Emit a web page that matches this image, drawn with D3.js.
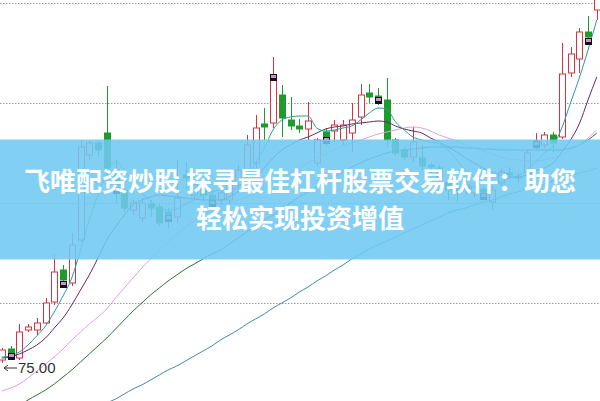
<!DOCTYPE html>
<html><head><meta charset="utf-8">
<script src="https://cdn.jsdelivr.net/npm/d3@7/dist/d3.min.js"></script>
<style>html,body{margin:0;padding:0;background:#fff;overflow:hidden}svg{display:block}</style>
</head><body>
<svg id="chart" width="600" height="401"></svg>
<script>
// ---- data ----
const opens  = [75.15,75.70,75.25,76.65,76.65,77.00,78.05,79.65,79.00,81.15,85.40,86.00,86.50,84.65,83.65,82.65,82.25,82.95,82.80,82.55,82.30,84.40,83.40,83.75,83.40,83.15,83.15,83.90,84.50,85.00,86.95,87.00,88.40,87.15,86.85,86.70,85.00,86.55,86.60,86.15,86.50,87.30,88.50,88.35,88.15,86.15,85.65,85.30,85.25,84.90,84.75,84.05,83.75,83.90,83.50,83.70,83.05,84.00,84.50,84.30,84.50,85.75,85.90,86.40,86.30,89.50,90.20,91.55,92.65];
const closes = [75.65,75.50,76.55,76.80,77.00,78.00,79.55,79.15,80.90,85.80,86.00,85.65,84.75,83.90,82.75,83.00,83.00,82.75,82.00,82.40,83.25,84.25,83.90,83.40,83.15,83.50,84.05,84.65,85.90,86.75,86.80,89.15,87.25,86.85,86.70,87.10,86.15,86.15,86.90,86.90,87.15,88.40,88.30,88.20,86.15,85.50,85.30,86.05,84.85,84.80,84.25,83.65,83.60,83.70,83.80,83.55,83.65,84.55,84.40,84.25,85.50,86.10,86.40,86.00,89.45,90.45,91.55,91.30,93.90];
const highs  = [75.75,75.85,76.95,76.95,77.25,78.25,80.40,79.90,81.50,86.10,86.10,86.10,88.85,85.15,84.00,83.15,83.25,83.15,83.00,82.75,85.15,85.05,84.15,84.00,83.65,83.75,84.25,84.90,86.40,87.40,87.75,90.30,88.90,88.30,87.20,88.05,86.25,86.75,87.15,87.15,88.00,88.95,88.95,88.75,89.25,86.25,85.80,86.80,85.90,85.05,84.90,84.25,84.00,84.05,83.90,83.80,83.85,84.75,84.80,84.50,85.65,86.50,86.55,86.55,91.00,90.80,91.75,92.35,94.40];
const lows   = [75.00,75.25,75.15,76.55,76.40,76.90,77.90,78.80,78.85,81.05,85.15,85.35,84.25,83.00,82.55,82.40,82.05,82.30,81.85,81.75,82.00,83.65,83.15,83.15,82.90,82.90,82.95,83.65,84.25,84.75,86.15,86.75,86.30,86.65,86.50,86.15,84.85,85.85,86.05,85.90,85.55,86.90,88.00,87.90,85.80,85.35,85.15,85.05,84.65,84.50,84.05,83.15,83.05,83.40,83.30,83.15,82.65,83.85,84.25,84.05,84.35,85.65,85.75,85.55,86.20,89.30,89.50,90.90,92.15];

const ma5  = [75.30,75.35,75.55,75.90,76.35,76.85,77.55,78.35,79.25,80.65,82.15,83.40,84.50,85.05,84.65,84.05,83.50,83.10,82.75,82.65,82.70,82.95,83.15,83.40,83.55,83.65,83.65,83.80,84.30,85.00,85.75,86.65,87.15,87.30,87.35,87.35,86.75,86.60,86.65,86.75,86.85,87.15,87.50,87.75,87.70,87.05,86.65,86.30,86.15,86.05,85.95,85.65,85.15,84.65,84.30,84.10,84.00,84.10,84.25,84.35,84.65,85.05,85.50,85.85,86.75,88.00,89.25,90.65,92.15];
const ma10 = [75.25,75.30,75.45,75.65,75.90,76.25,76.75,77.25,77.90,78.65,79.40,80.25,81.15,81.80,82.40,82.90,83.15,83.30,83.40,83.35,83.30,83.25,83.20,83.15,83.15,83.15,83.30,83.55,83.90,84.30,84.75,85.25,85.65,85.90,86.15,86.30,86.50,86.70,86.80,86.85,86.95,87.00,87.05,87.10,87.05,86.85,86.70,86.60,86.50,86.25,86.05,85.80,85.55,85.25,85.00,84.75,84.55,84.40,84.30,84.30,84.40,84.60,84.75,85.00,85.55,86.15,86.95,88.15,89.30];
const ma20 = [73.60,73.75,73.95,74.25,74.60,74.95,75.30,75.70,76.15,76.55,76.95,77.30,77.70,78.25,78.75,79.25,79.75,80.20,80.65,81.05,81.45,81.80,82.10,82.35,82.60,82.80,83.00,83.15,83.30,83.50,83.70,84.00,84.25,84.50,84.75,85.00,85.25,85.45,85.65,85.85,86.00,86.15,86.30,86.45,86.55,86.65,86.75,86.80,86.75,86.60,86.40,86.25,86.10,85.90,85.75,85.60,85.45,85.30,85.20,85.15,85.10,85.10,85.15,85.25,85.40,85.65,85.90,86.25,86.65];
const ma30 = [72.15,72.50,72.85,73.15,73.40,73.65,73.95,74.30,74.65,75.05,75.45,75.85,76.25,76.70,77.15,77.60,78.00,78.40,78.75,79.10,79.40,79.70,79.95,80.20,80.45,80.65,80.95,81.25,81.55,81.85,82.15,82.40,82.70,83.00,83.30,83.55,83.80,84.05,84.30,84.55,84.80,85.00,85.20,85.35,85.50,85.60,85.65,85.70,85.75,85.80,85.80,85.80,85.80,85.75,85.75,85.70,85.70,85.65,85.65,85.65,85.65,85.65,85.65,85.65,85.65,85.75,85.90,86.15,86.50];
const ma60 = [null,null,null,null,null,null,null,null,null,null,null,72.75,73.00,73.20,73.45,73.70,73.90,74.15,74.40,74.65,74.85,75.10,75.35,75.60,75.85,76.15,76.40,76.65,76.95,77.20,77.45,77.75,78.00,78.25,78.55,78.80,79.10,79.35,79.65,79.90,80.20,80.45,80.70,80.90,81.10,81.30,81.50,81.70,81.90,82.10,82.30,82.50,82.65,82.75,82.90,83.05,83.15,83.30,83.45,83.55,83.70,83.80,83.95,84.10,84.20,84.35,84.50,84.60,84.75];

const markIdx   = [1,7,13,19,24,31,37,43,55,61,67];
const markPrice = [75.50,79.10,83.80,82.40,83.15,89.45,86.30,88.30,83.50,86.10,91.25];

const gridPrices = [78, 83, 88, 93];
const lowLabel = 75.00;
const titleLines = ["飞唯配资炒股 探寻最佳杠杆股票交易软件：助您", "轻松实现投资增值"];

// ---- drawing ----
const W = 600, H = 401;
const svg = d3.select("#chart");
const n = opens.length;
const x = d3.scaleLinear().domain([0, n - 1]).range([1.75, 596.75]);
const y = d3.scaleLinear().domain([73.1, 93.15]).range([H, 0]);

const RED = "#d4363f", GREEN = "#1f9a2c";

// grid
svg.append("g").selectAll("line").data(gridPrices).join("line")
  .attr("x1", 0).attr("x2", W)
  .attr("y1", d => Math.round(y(d)) + 0.5).attr("y2", d => Math.round(y(d)) + 0.5)
  .attr("stroke", "#9a9a9a").attr("stroke-width", 1).attr("stroke-dasharray", "1.5,1.5");

// candles
const data = d3.range(n).map(i => ({i, o: opens[i], c: closes[i], h: highs[i], l: lows[i], up: closes[i] >= opens[i]}));
const cg = svg.append("g");
cg.selectAll("line").data(data).join("line")
  .attr("x1", d => Math.round(x(d.i)) + 0.5).attr("x2", d => Math.round(x(d.i)) + 0.5)
  .attr("y1", d => y(d.h)).attr("y2", d => y(d.l))
  .attr("stroke", d => d.up ? RED : GREEN).attr("stroke-width", 1);
cg.selectAll("rect").data(data).join("rect")
  .attr("x", d => Math.round(x(d.i)) - 2.5)
  .attr("y", d => y(Math.max(d.o, d.c)))
  .attr("width", 6)
  .attr("height", d => Math.max(1, Math.abs(y(d.o) - y(d.c))))
  .attr("fill", d => d.up ? "#fff" : GREEN)
  .attr("stroke", d => d.up ? RED : GREEN).attr("stroke-width", 1);

// moving averages
const maList = [
  {v: ma60, color: "#3f8c9c"},
  {v: ma30, color: "#2f6e3a"},
  {v: ma20, color: "#e09ee6"},
  {v: ma10, color: "#6e2466"},
  {v: ma5,  color: "#2a9c9a"}
];
const line = d3.line().defined(d => d[1] != null).x(d => x(d[0])).y(d => y(d[1])).curve(d3.curveMonotoneX);
svg.append("g").selectAll("path").data(maList).join("path")
  .attr("d", m => line(m.v.map((v, i) => [i, v])))
  .attr("fill", "none").attr("stroke", m => m.color).attr("stroke-width", 1);

// markers
const mg = svg.append("g").selectAll("g").data(markIdx.map((d, k) => ({i: d, p: markPrice[k]}))).join("g")
  .attr("transform", d => `translate(${Math.round(x(d.i)) - 3},${Math.round(y(d.p))})`);
mg.append("rect").attr("width", 7).attr("height", 7).attr("fill", "#111");
mg.append("rect").attr("x", 1).attr("y", 1).attr("width", 5).attr("height", 3).attr("fill", "#d58ad6");

// low label
const ly = y(lowLabel) + 5;
const lg = svg.append("g").attr("stroke", "#333").attr("fill", "none").attr("stroke-width", 1);
lg.append("line").attr("x1", 4).attr("x2", 17).attr("y1", ly).attr("y2", ly);
lg.append("path").attr("d", `M8,${ly - 3}L4,${ly}L8,${ly + 3}`);
svg.append("text").attr("x", 18).attr("y", ly).attr("dy", "0.36em")
  .attr("font-family", "Liberation Sans, Arial, sans-serif").attr("font-size", 15).attr("fill", "#333")
  .text(lowLabel.toFixed(2));

// banner
svg.append("rect").attr("x", 0).attr("y", 139.5).attr("width", W).attr("height", 120)
  .attr("fill", "rgb(112,202,243)").attr("fill-opacity", 0.88);
svg.append("g").selectAll("text").data(titleLines).join("text")
  .attr("x", W / 2).attr("y", (d, k) => 182 + k * 37).attr("dy", "0.36em")
  .attr("text-anchor", "middle")
  .attr("font-family", "Noto Sans CJK SC, sans-serif").attr("font-weight", 700).attr("font-size", 26)
  .attr("fill", "#fff").text(d => d);
</script>
</body></html>
